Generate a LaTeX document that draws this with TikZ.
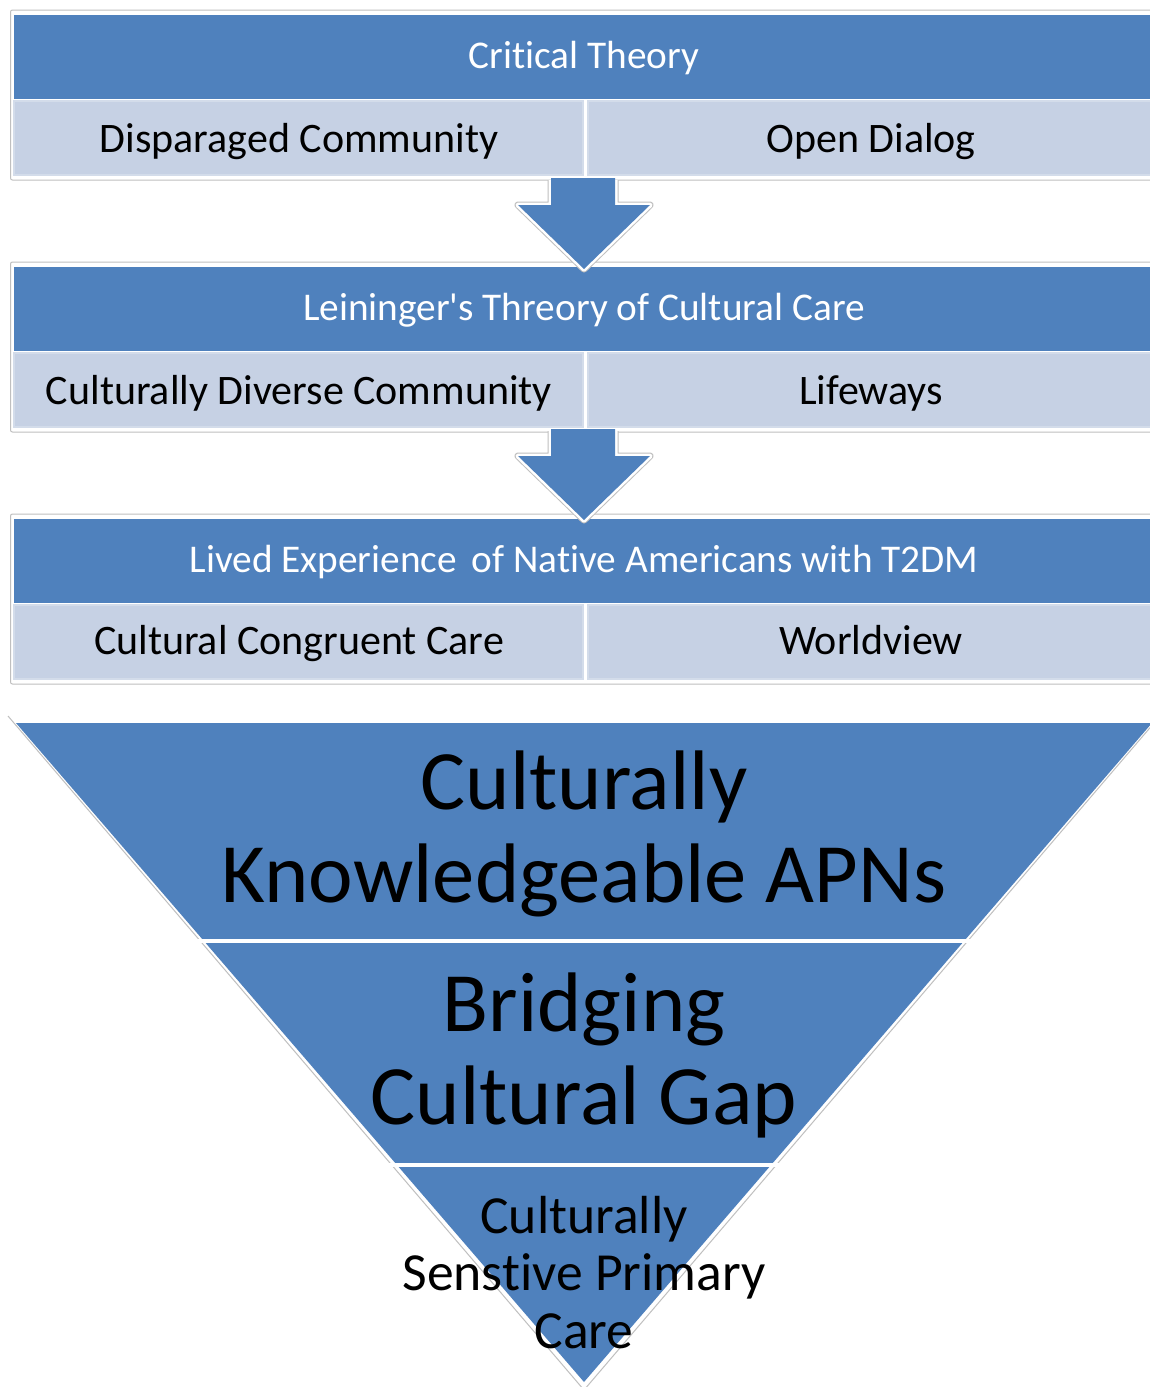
\documentclass[tikz,border=0pt]{standalone}
\usepackage{fontspec}
\setmainfont{Carlito}[Ligatures=NoCommon]
\newfontfamily\plainquote{Carlito}[Ligatures=NoCommon]
\definecolor{hdr}{HTML}{4F81BD}
\definecolor{cellfill}{HTML}{C6D1E4}
\definecolor{cellrim}{HTML}{D3DCEA}
\definecolor{framegray}{HTML}{BFBFBF}
\tikzset{
  hdrtext/.style={text=white, inner sep=0pt, anchor=base, font=\fontsize{39.3}{47}\selectfont},
  celltext/.style={text=black, inner sep=0pt, anchor=base, font=\fontsize{42}{50}\selectfont},
  bigtext/.style={text=black, inner sep=0pt, align=center, anchor=base, font=\fontsize{84.5}{93}\selectfont},
  smalltext/.style={text=black, inner sep=0pt, align=center, anchor=base, font=\fontsize{53.6}{57.5}\selectfont},
  cellbox/.style={fill=cellfill, draw=cellrim, line width=2pt},
  boxframe/.style={draw=framegray, line width=1pt, rounded corners=2pt},
  arrowfill/.style={fill=hdr},
  arrowrimout/.style={draw=framegray, line width=7pt, line join=round},
  arrowrimin/.style={draw=white, line width=5pt, line join=round},
}
\newcommand{\stackbox}[1]{%
  \draw[boxframe] (1165,#1-5) -- (10.5,#1-5) -- (10.5,#1+165) -- (1165,#1+165);
  \fill[hdr] (14,#1) rectangle (1165,#1+84);
  \draw[cellbox] (14,#1+86) rectangle (583,#1+160);
  \draw[cellbox] (588,#1+86) rectangle (1170,#1+160);
}
\newcommand{\downarrowshape}[1]{%
  \draw[arrowrimout] (551,#1) -- (551,#1+25) -- (518,#1+25) -- (584,#1+89) -- (650,#1+25) -- (615,#1+25) -- (615,#1);
  \draw[arrowrimin] (551,#1) -- (551,#1+25) -- (518,#1+25) -- (584,#1+89) -- (650,#1+25) -- (615,#1+25) -- (615,#1);
  \fill[arrowfill] (551,#1-2) -- (551,#1+25) -- (518,#1+25) -- (584,#1+89) -- (650,#1+25) -- (615,#1+25) -- (615,#1-2) -- cycle;
}
\begin{document}
\begin{tikzpicture}[x=1pt,y=-1pt]
\useasboundingbox[fill=white] (0,0) rectangle (1149,1387);

% stacked boxes
\stackbox{15}
\stackbox{267}
\stackbox{519}

% arrows
\downarrowshape{180}
\downarrowshape{431}

% box texts
\node[hdrtext] (h1) at (584,68) {Critical Theory};
\node[celltext] (c1a) at (299,152) {Disparaged Community};
\node[celltext] (c1b) at (871,152) {Open Dialog};

\node[hdrtext] (h2) at (584,320) {Leininger{\plainquote'}s Threory of Cultural Care};
\node[celltext] (c2a) at (299,404) {Culturally Diverse Community};
\node[celltext] (c2b) at (871,404) {Lifeways};

\node[hdrtext] (h3) at (584,572) {Lived Experience\hspace{6pt} of Native Americans with T2DM};
\node[celltext] (c3a) at (299,654) {Cultural Congruent Care};
\node[celltext] (c3b) at (871,654) {Worldview};

% inverted triangle
\draw[framegray, line width=1pt] (8,716) -- (584,1390) -- (1160,716);
\fill[hdr] (16,723) -- (1152,723) -- (584,1382) -- cycle;
\draw[white, line width=4pt] (0,941) -- (1149,941);
\draw[white, line width=4pt] (0,1165) -- (1149,1165);

\node[bigtext] (t1) at (584,902) {Culturally\\Knowledgeable APNs};
\node[bigtext] (t2) at (584,1124) {Bridging\\Cultural Gap};
\node[smalltext] (t3) at (584,1348) {Culturally\\Senstive Primary\\Care};
\end{tikzpicture}
\end{document}
